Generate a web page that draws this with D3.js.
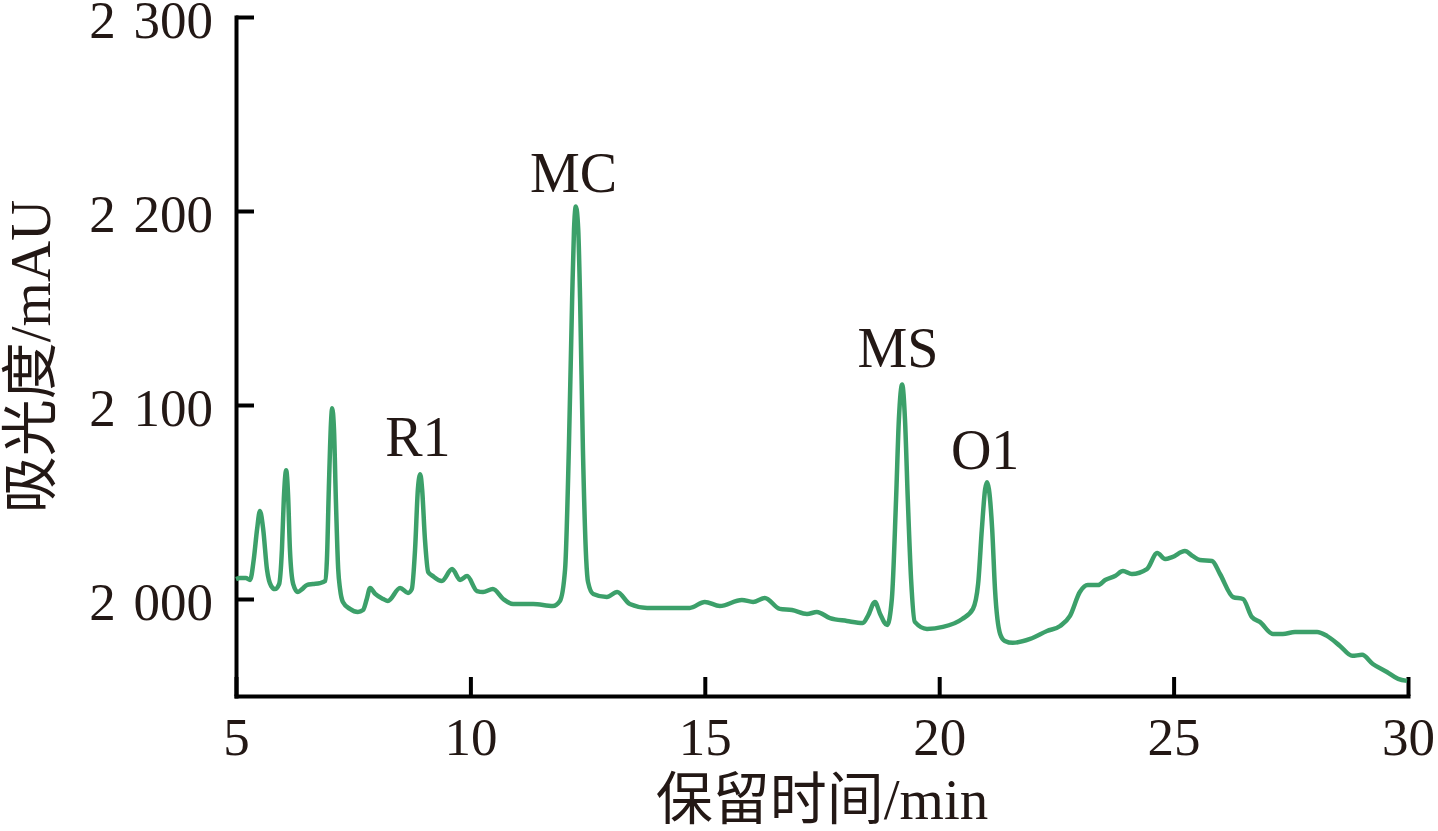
<!DOCTYPE html>
<html>
<head>
<meta charset="utf-8">
<script src="https://cdn.jsdelivr.net/npm/d3@7"></script>
<style>
  html, body { margin: 0; padding: 0; background: #fff; }
  svg { display: block; }
</style>
</head>
<body>
<svg id="chart" width="1438" height="831"></svg>
<script>
// ---- data ----
const times = [5.00,5.085,5.21,5.30,5.38,5.45,5.51,5.58,5.66,5.75,5.83,5.92,5.98,6.02,6.07,6.11,6.15,6.22,6.32,6.41,6.51,6.64,6.79,6.90,6.94,6.98,7.03,7.05,7.09,7.13,7.18,7.22,7.28,7.43,7.60,7.71,7.79,7.86,7.97,8.14,8.24,8.50,8.67,8.75,8.82,8.88,8.93,8.97,9.03,9.10,9.20,9.39,9.61,9.78,9.93,10.14,10.27,10.48,10.70,10.91,11.34,11.76,11.91,12.02,12.10,12.17,12.21,12.25,12.30,12.34,12.40,12.47,12.51,12.62,12.91,13.13,13.40,13.77,14.68,15.00,15.32,15.79,16.03,16.28,16.60,16.86,17.18,17.39,17.67,18.03,18.37,18.48,18.63,18.74,18.89,18.99,19.08,19.14,19.21,19.27,19.33,19.40,19.48,19.74,20.08,20.49,20.72,20.83,20.91,20.98,21.02,21.06,21.13,21.19,21.30,21.40,21.57,21.94,22.30,22.58,22.79,23.00,23.17,23.39,23.54,23.75,23.92,24.11,24.43,24.65,24.82,24.97,25.24,25.41,25.56,25.82,25.99,26.27,26.48,26.67,26.84,27.12,27.33,27.59,28.06,28.27,28.55,28.81,29.02,29.25,29.55,29.79,29.98];
const absorbance = [2010.3,2010.8,2010.8,2009.8,2020.6,2036,2045.3,2036,2015.4,2006.7,2005.1,2007.7,2025.7,2051.5,2066.4,2054,2025.7,2007.7,2003.6,2005.1,2007.2,2007.7,2008.2,2009.3,2020.6,2056.6,2092.6,2098.3,2087.5,2051.5,2015.4,2005.1,1998.5,1994.9,1993.3,1994.3,2000,2005.7,2002.6,2000,1999,2005.7,2003.1,2005.1,2025.7,2056.6,2064.3,2056.6,2030.9,2013.9,2011.8,2009.3,2015.4,2009.8,2011.8,2004.1,2003.6,2005.1,2000,1997.4,1997.4,1996.4,1999,2015.4,2077.2,2154.4,2190.4,2202.3,2190.4,2154.4,2077.2,2020.6,2008.7,2002.6,2001,2003.6,1997.4,1995.4,1995.4,1998.5,1996.4,1999.5,1998.5,2000.5,1994.9,1994.3,1992.3,1993.3,1990.2,1988.7,1987.6,1991.3,1998.5,1992.3,1986.6,2000,2051.5,2092.6,2110.6,2092.6,2051.5,2010.3,1988.2,1984.6,1985.6,1989.7,1994.9,2007.7,2036,2056.6,2060.2,2056.6,2036,2005.1,1982,1978.4,1977.4,1979.4,1983.5,1986.1,1991.3,2003.6,2007.2,2007.2,2009.8,2011.8,2014.4,2012.9,2015.4,2023.7,2020.6,2021.6,2024.7,2022.1,2020.1,2019.6,2012.9,2001,2000,1990.7,1988.2,1982,1982,1983,1983,1981,1975.8,1970.7,1971.2,1966.5,1962.4,1958.8,1957.8];

const xTicks = [5, 10, 15, 20, 25, 30];
const yTicks = [2000, 2100, 2200, 2300];

const peakLabels = ["R1", "MC", "MS", "O1"];
const peakLabelTimes = [8.88, 12.20, 19.12, 20.98];
const peakLabelValues = [2073.6, 2210, 2119.4, 2066.9];

const xTitle = "保留时间/min";
const yTitle = "吸光度/mAU";

// ---- drawing ----
const svg = d3.select("#chart");
const mLeft = 236, mRight = 1408, mTop = 17, mBottom = 696;

const x = d3.scaleLinear().domain([5, 30]).range([mLeft, mRight]);
const y = d3.scaleLinear().domain([1950, 2300]).range([mBottom, mTop]);

const serif = "'Liberation Serif', 'Times New Roman', 'Noto Sans CJK SC', serif";
const fmtY = d => { const s = String(d); return s.slice(0, 1) + "\u2004" + s.slice(1); };

// x axis
const gx = svg.append("g")
  .attr("transform", `translate(0,${mBottom})`)
  .call(d3.axisBottom(x).tickValues(xTicks).tickFormat(d3.format("d"))
    .tickSizeInner(-19).tickSizeOuter(0).tickPadding(21));
// y axis
const gy = svg.append("g")
  .attr("transform", `translate(${mLeft},0)`)
  .call(d3.axisLeft(y).tickValues(yTicks).tickFormat(fmtY)
    .tickSizeInner(-18).tickSizeOuter(0).tickPadding(23));

[gx, gy].forEach(g => {
  g.select(".domain").attr("stroke", "#000").attr("stroke-width", 4).attr("stroke-linecap", "square");
  g.selectAll(".tick line").attr("stroke", "#000").attr("stroke-width", 4);
  g.selectAll(".tick text").attr("fill", "#231815")
    .style("font-family", serif).style("font-size", "53px");
});
gy.selectAll(".tick text").attr("dy", "0.38em");

// line
const pts = times.map((t, i) => [t, absorbance[i]]);
svg.append("path")
  .datum(pts)
  .attr("fill", "none")
  .attr("stroke", "#3ca06a")
  .attr("stroke-width", 4.5)
  .attr("stroke-linejoin", "round")
  .attr("d", d3.line().x(d => x(d[0])).y(d => y(d[1])).curve(d3.curveMonotoneX));

// peak labels
svg.append("g").selectAll("text")
  .data(peakLabels)
  .join("text")
  .attr("x", (d, i) => x(peakLabelTimes[i]))
  .attr("y", (d, i) => y(peakLabelValues[i]))
  .attr("text-anchor", "middle")
  .attr("fill", "#231815")
  .style("font-family", serif)
  .style("font-size", "56px")
  .text(d => d);

// axis titles
svg.append("text")
  .attr("x", (mLeft + mRight) / 2)
  .attr("y", 819)
  .attr("text-anchor", "middle")
  .attr("fill", "#231815")
  .style("font-family", serif)
  .style("font-size", "57px")
  .text(xTitle);

svg.append("text")
  .attr("transform", `translate(50,${(mTop + mBottom) / 2}) rotate(-90)`)
  .attr("text-anchor", "middle")
  .attr("fill", "#231815")
  .style("font-family", serif)
  .style("font-size", "57px")
  .text(yTitle);
</script>
</body>
</html>
